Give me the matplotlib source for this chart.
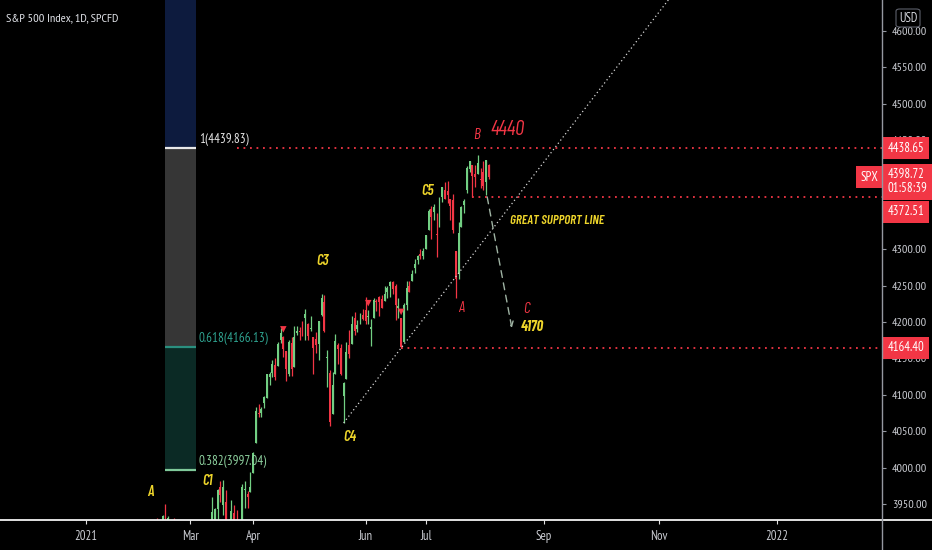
import numpy as np
import matplotlib
matplotlib.use("Agg")
import matplotlib.pyplot as plt
from matplotlib import font_manager as fm
from matplotlib.lines import Line2D
from matplotlib.patches import Rectangle, FancyBboxPatch
from matplotlib.transforms import blended_transform_factory

# ---------------------------------------------------------------- fonts
_entries = fm.fontManager.ttflist
_names = {f.name for f in _entries}
_italic_names = {f.name for f in _entries if f.style == "italic"}
_narrow = ["PT Sans Narrow", "Roboto Condensed", "Fira Sans Condensed", "Archivo Narrow",
           "Open Sans Condensed", "Asap Condensed", "Encode Sans Condensed",
           "Barlow Semi Condensed", "Ubuntu Condensed", "Liberation Sans Narrow"]
_narrow_italic = ["Barlow Condensed", "Roboto Condensed", "Fira Sans Condensed",
                  "Archivo Narrow", "Asap Condensed"]
BASE_FONT = next((f for f in _narrow if f in _names), "Liberation Sans")
ITALIC_FONT = next((f for f in _narrow_italic if f in _italic_names), BASE_FONT)
plt.rcParams["font.family"] = [BASE_FONT, "DejaVu Sans"]

# ---------------------------------------------------------------- calendar
HOLIDAYS = ["2021-01-18", "2021-02-15", "2021-04-02", "2021-05-31",
            "2021-07-05", "2021-09-06", "2021-11-25", "2021-12-24"]
ORIGIN = "2021-01-04"          # bar index 0
FIRST_SESSION = "2021-02-01"   # first candle below

# ---------------------------------------------------------------- daily OHLC (Feb 1 .. Aug 4 2021)
opens = [
    3731, 3791, 3840, 3837, 3878, 3892, 3910, 3920, 3916, 3911, 3939, 3918, 3915, 3921, 3885, 3857, 3873, 3915, 3839,
    3842, 3903, 3863, 3818, 3793, 3844, 3851, 3891, 3916, 3924, 3943, 3974, 3949, 3953, 3913, 3916, 3937, 3919, 3880, 3917, 3969, 3964, 3967,
    3992, 4034, 4075, 4075, 4089, 4096, 4124, 4130, 4141, 4140, 4175, 4179, 4160, 4128, 4171, 4138, 4185, 4188, 4185, 4206, 4198,
    4191, 4179, 4177, 4170, 4210, 4228, 4150, 4130, 4074, 4129, 4169, 4165, 4098, 4122, 4168, 4170, 4205, 4191, 4201, 4210,
    4216, 4207, 4191, 4206, 4229, 4234, 4232, 4229, 4242, 4249, 4255, 4249, 4220, 4205, 4173, 4224, 4250, 4256, 4274, 4285, 4294, 4291,
    4301, 4327, 4356, 4351, 4321, 4330, 4372, 4381, 4380, 4369, 4368, 4297, 4266, 4331, 4361, 4381, 4410, 4416, 4403, 4404, 4396,
    4406, 4392, 4416,
]
highs = [
    3784, 3843, 3847, 3872, 3894, 3916, 3918, 3931, 3925, 3935, 3950, 3933, 3921, 3931, 3902, 3895, 3928, 3925, 3861,
    3914, 3906, 3874, 3843, 3851, 3881, 3903, 3918, 3960, 3944, 3970, 3981, 3983, 3969, 3930, 3955, 3949, 3942, 3919, 3978, 3981, 3968, 3994,
    4021, 4083, 4087, 4083, 4098, 4129, 4131, 4148, 4151, 4173, 4192, 4181, 4160, 4175, 4179, 4194, 4194, 4193, 4201, 4218, 4199,
    4209, 4179, 4187, 4202, 4238, 4237, 4162, 4134, 4131, 4183, 4171, 4170, 4117, 4172, 4189, 4209, 4214, 4203, 4213, 4218,
    4234, 4217, 4204, 4233, 4232, 4236, 4237, 4249, 4249, 4256, 4257, 4252, 4233, 4205, 4226, 4256, 4256, 4271, 4286, 4292, 4300, 4302,
    4320, 4355, 4359, 4362, 4350, 4372, 4386, 4393, 4394, 4369, 4376, 4297, 4337, 4359, 4369, 4415, 4422, 4416, 4416, 4430, 4412,
    4422, 4423, 4417,
]
lows = [
    3725, 3791, 3816, 3836, 3874, 3892, 3902, 3885, 3890, 3901, 3923, 3900, 3885, 3884, 3868, 3805, 3860, 3814, 3789,
    3842, 3868, 3818, 3723, 3730, 3819, 3851, 3885, 3916, 3915, 3924, 3953, 3935, 3910, 3887, 3915, 3901, 3889, 3853, 3917, 3944, 3944, 3966,
    3992, 4034, 4069, 4069, 4082, 4095, 4114, 4124, 4120, 4139, 4171, 4152, 4119, 4126, 4126, 4138, 4182, 4176, 4181, 4176, 4175,
    4188, 4128, 4158, 4148, 4208, 4187, 4111, 4057, 4074, 4129, 4143, 4127, 4061.41, 4122, 4151, 4170, 4182, 4187, 4197, 4203,
    4197, 4198, 4167, 4206, 4215, 4209, 4219, 4229, 4233, 4234, 4238, 4203, 4206, 4164.40, 4173, 4217, 4241, 4256, 4267, 4280, 4287, 4287,
    4301, 4327, 4314, 4340, 4289, 4330, 4365, 4369, 4364, 4340, 4323, 4233, 4259, 4331, 4350, 4377, 4406, 4372.51, 4386, 4404, 4384,
    4381, 4374, 4396,
]
closes = [
    3773, 3826, 3830, 3871, 3887, 3915, 3911, 3909, 3916, 3934, 3932, 3931, 3913, 3906, 3876, 3881, 3925, 3829, 3811,
    3901, 3870, 3820, 3768, 3842, 3821, 3875, 3899, 3939, 3943, 3969, 3962, 3974, 3915, 3913, 3940, 3910, 3889, 3910, 3974, 3971, 3959, 3973,
    4020, 4078, 4074, 4080, 4097, 4129, 4128, 4142, 4125, 4170, 4185, 4163, 4135, 4173, 4135, 4180, 4188, 4187, 4184, 4211, 4181,
    4192, 4165, 4168, 4201, 4233, 4188, 4152, 4063, 4113, 4174, 4163, 4128, 4116, 4159, 4156, 4197, 4188, 4196, 4201, 4204,
    4202, 4208, 4193, 4230, 4227, 4227, 4220, 4239, 4247, 4255, 4246, 4223, 4222, 4166, 4224, 4247, 4242, 4266, 4280, 4291, 4291, 4298,
    4320, 4352, 4344, 4358, 4320, 4369, 4385, 4369, 4374, 4360, 4327, 4259, 4323, 4358, 4367, 4412, 4422, 4401, 4400, 4419, 4395,
    4387, 4423, 4398.72,
]
signal_dates = ["2021-04-19", "2021-06-02", "2021-06-18"]

# date axis
tick_dates = ["2021-01-04", "2021-03-01", "2021-04-01", "2021-06-01",
              "2021-07-01", "2021-09-01", "2021-11-01", "2022-01-03"]
tick_labels = ["2021", "Mar", "Apr", "Jun", "Jul", "Sep", "Nov", "2022"]
# price scale marks; 4350 and 4400 sit under the price tags
price_ticks = [3950, 4000, 4050, 4100, 4150, 4200, 4250, 4300, 4450, 4500, 4550, 4600]

# Fibonacci retracement
fib_from, fib_to = "2021-02-16", "2021-03-03"
fib_levels = [0.382, 0.618, 1.0]
fib_prices = [3997.04, 4166.13, 4439.83]

# horizontal price levels: (value, first session)
level_lines = [(4438.65, "2021-03-24"), (4372.51, "2021-07-27"), (4164.40, "2021-06-18")]
last_price = 4398.72
countdown = "01:58:39"

# trend line anchors (two lows)
trend_a = ("2021-05-19", 4061.41)
trend_b = ("2021-06-18", 4164.40)

# projected move
proj_from = ("2021-08-03", 4372.0)
proj_to = ("2021-08-17", 4192.0)


def bar_index(d):
    return int(np.busday_count(ORIGIN, d, holidays=HOLIDAYS))


n = len(closes)
start = bar_index(FIRST_SESSION)
xs = np.arange(start, start + n)
o, h, l, c = map(np.asarray, (opens, highs, lows, closes))

# ---------------------------------------------------------------- figure
BG = "#000000"
RED = "#f23645"
GREEN = "#72cf83"
YEL = "#eed52b"
AXC = "#c9cbd1"
FS = 8.7

fig = plt.figure(figsize=(9.32, 5.5), dpi=100, facecolor=BG)
ax = fig.add_axes([0, 30 / 550, 882 / 932, 520 / 550], facecolor=BG)
XMIN, XMAX = -31.4, 290.5
YMIN, YMAX = 3928.0, 4642.6
ax.set_xlim(XMIN, XMAX)
ax.set_ylim(YMIN, YMAX)
for s in ax.spines.values():
    s.set_visible(False)

# Fibonacci bands
fx0, fx1 = bar_index(fib_from), bar_index(fib_to)
band_cols = ["#0b2a25", "#363636", "#0d1b3e"]
edges = fib_prices + [YMAX + 50]
for lo_v, hi_v, col in zip(edges[:-1], edges[1:], band_cols):
    ax.add_patch(Rectangle((fx0, lo_v), fx1 - fx0, hi_v - lo_v, fc=col, ec="none", zorder=0.5))
line_cols = ["#7fc99a", "#2a8f7f", "#e8e8e8"]
text_cols = ["#8fd3a0", "#2fa390", "#e6e6e6"]
for lv, pv, lc, tc in zip(fib_levels, fib_prices, line_cols, text_cols):
    ax.plot([fx0, fx1], [pv, pv], color=lc, lw=1.6, zorder=0.7, solid_capstyle="butt")
    lab = "1" if lv == 1.0 else f"{lv:g}"
    ax.text(fx1 + 1.2, pv + 2, f"{lab}({pv:.2f})", color=tc, fontsize=9.4,
            ha="left", va="bottom", zorder=3)

# candles
up = c >= o
cols = np.where(up, GREEN, RED)
ax.vlines(xs, l, h, colors=cols, lw=0.9, zorder=2)
body_lo = np.minimum(o, c)
body_h = np.maximum(np.abs(c - o), 1.0)
ax.bar(xs, body_h, bottom=body_lo, width=0.72, color=cols, edgecolor="none", zorder=2.2)

# signal markers above highs
sig_x = np.array([bar_index(d) for d in signal_dates])
sig_y = h[sig_x - start] + 9
ax.scatter(sig_x, sig_y, marker="v", s=22, color=RED, edgecolors="none", zorder=3)

# horizontal dotted price levels
for val, d in level_lines:
    ax.plot([bar_index(d), XMAX], [val, val], color=RED, lw=1.3,
            linestyle=(0, (1.0, 2.6)), zorder=2.5)

# dotted trend ray
ta_x, tb_x = bar_index(trend_a[0]), bar_index(trend_b[0])
slope = (trend_b[1] - trend_a[1]) / (tb_x - ta_x)
ray_x = np.array([ta_x, XMAX])
ray_y = trend_a[1] + slope * (ray_x - ta_x)
ax.plot(ray_x, ray_y, color="#d8d8d8", lw=0.9, linestyle=(0, (1.0, 2.2)), zorder=2.6)

# projected leg
ax.annotate("", xy=(bar_index(proj_to[0]) - 0.6, proj_to[1]),
            xytext=(bar_index(proj_from[0]) + 0.4, proj_from[1]),
            arrowprops=dict(arrowstyle="->", color="#9fb3a3", lw=1.0,
                            linestyle=(0, (5, 4)), shrinkA=0, shrinkB=0,
                            mutation_scale=9), zorder=3)

# wave labels
def wlabel(x, y, s, col, size=10.5, weight="semibold", ha="center"):
    ax.text(x, y, s, color=col, fontsize=size, ha=ha, va="center",
            family=[ITALIC_FONT, "DejaVu Sans"], style="italic",
            weight=weight, zorder=4)

wlabel(23.4, 3966.5, "A", YEL)
wlabel(44.2, 3981.6, "C1", YEL)
wlabel(86.5, 4284.0, "C3", YEL)
wlabel(96.4, 4042.0, "C4", YEL)
wlabel(124.5, 4380.0, "C5", YEL)
wlabel(136.9, 4219.0, "A", RED, size=11, weight="normal")
wlabel(142.7, 4457.0, "B", RED, size=11, weight="normal")
wlabel(160.6, 4218.0, "C", RED, size=11, weight="normal")
wlabel(154.0, 4464.0, "4440", RED, size=15, weight="normal")
wlabel(154.7, 4339.0, "GREAT SUPPORT LINE", YEL, size=9.4, weight="semibold", ha="left")
wlabel(158.8, 4193.0, "4170", YEL, size=10.5, weight="bold", ha="left")

# title
fig.text(6 / 932, 1 - 18 / 550, "S&P 500 Index, 1D, SPCFD", color="#e2e4ea",
         fontsize=8.8, ha="left", va="center")

# ---------------------------------------------------------------- axes ticks
ax.yaxis.tick_right()
ax.set_yticks(price_ticks)
ax.set_yticklabels([f"{v:.2f}" for v in price_ticks])
ax.tick_params(axis="y", colors="#9598a1", labelcolor=AXC, labelsize=FS,
               length=3, width=0.8, pad=4, direction="out")
ax.set_xticks([bar_index(d) for d in tick_dates])
ax.set_xticklabels(tick_labels)
ax.tick_params(axis="x", colors="#e0e0e0", labelcolor=AXC, labelsize=9.2,
               length=3, width=0.8, pad=4, direction="out")

fig.add_artist(Line2D([0, 1], [30 / 550, 30 / 550], color="#f2f2f2", lw=1.3))
fig.add_artist(Line2D([882 / 932, 882 / 932], [0, 1], color="#9598a1", lw=1.0))

# price tags on the scale
tr = blended_transform_factory(ax.transAxes, ax.transData)
tag_box = dict(boxstyle="square,pad=0.35", fc=RED, ec="none")
tag_shift = {4372.51: -11}
for val, _ in level_lines:
    ax.annotate(f"{val:.2f}", xy=(1.0, val), xycoords=tr,
                xytext=(4, tag_shift.get(val, 0)), textcoords="offset points",
                color="white", fontsize=9.2, ha="left", va="center",
                annotation_clip=False, zorder=6, bbox=tag_box)
ax.annotate(f"{last_price:.2f}\n{countdown}", xy=(1.0, last_price), xycoords=tr,
            xytext=(4, 6.5), textcoords="offset points", color="white",
            fontsize=9.2, ha="left", va="top", linespacing=1.1,
            annotation_clip=False, zorder=7, bbox=tag_box)
ax.annotate("SPX", xy=(1.0, last_price), xycoords=tr, xytext=(-3, 0),
            textcoords="offset points", color="white", fontsize=9.2,
            ha="right", va="center", annotation_clip=False, zorder=6, bbox=tag_box)

# currency badge
fig.add_artist(FancyBboxPatch((896 / 932, 1 - 27 / 550), 24 / 932, 18 / 550,
                              boxstyle="round,pad=0,rounding_size=0.004",
                              fc=BG, ec="#5d606b", lw=0.8, transform=fig.transFigure))
fig.text(908 / 932, 1 - 18 / 550, "USD", color="#d8dae0", fontsize=9,
         ha="center", va="center")

fig.savefig("out.png", dpi=100, facecolor=BG)
